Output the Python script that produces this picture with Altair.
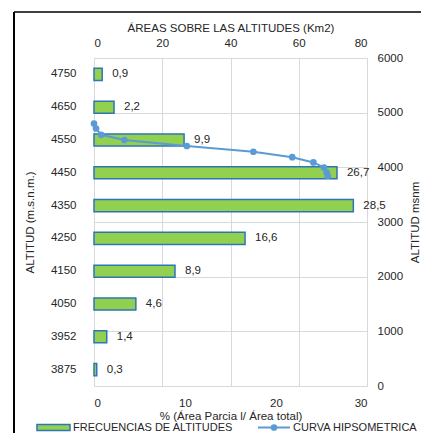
import altair as alt
import pandas as pd

# Bar data (left categorical axis / bottom % axis)
classes = ["4750", "4650", "4550", "4450", "4350", "4250", "4150", "4050", "3952", "3875"]
pct = [0.9, 2.2, 9.9, 26.7, 28.5, 16.6, 8.9, 4.6, 1.4, 0.3]

# Hypsometric curve (top km2 axis / right altitude axis)
area_km2 = [0.0, 0.6, 2.1, 8.9, 27.2, 46.7, 58.1, 64.3, 67.4, 68.2, 68.5]
alt_msnm = [4800, 4710, 4595, 4500, 4390, 4285, 4185, 4090, 3995, 3904, 3846]

FONT = "Liberation Sans"
GRID = "#D9D9D9"
TXT = "#262626"
GREEN = "#92D050"
BORDER = "#2E75B6"
BLUE = "#5B9BD5"

W, H = 273, 328

bars_df = pd.DataFrame({"clase": classes, "pct": pct})
curve_df = pd.DataFrame({"km2": area_km2, "alt": alt_msnm})
one = pd.DataFrame({"a": [0]})

common = dict(labelFont=FONT, titleFont=FONT, labelFontSize=11.5, titleFontSize=11.5,
              labelColor=TXT, titleColor=TXT, titleFontWeight="normal")

xb = alt.X("pct:Q", scale=alt.Scale(domain=[0, 30], nice=False),
           axis=alt.Axis(values=[0, 10, 20, 30], grid=False, domain=False, ticks=False,
                         labelPadding=11, title="% (Área Parcia l/ Área total)", titlePadding=2,
                         **common))
yb = alt.Y("clase:N", sort=classes,
           scale=alt.Scale(paddingInner=0.63, paddingOuter=0.315),
           axis=alt.Axis(grid=False, domain=False, ticks=False, labelPadding=18,
                         title="ALTITUD (m.s.n.m.)", titlePadding=15, **common))

bars = alt.Chart(bars_df).mark_bar(fill=GREEN, stroke=BORDER, strokeWidth=1.5).encode(x=xb, y=yb)
labels = alt.Chart(bars_df).transform_calculate(
    lab="replace(format(datum.pct, '.1f'), '.', ',')"
).mark_text(align="left", dx=10, font=FONT, fontSize=11.5, color=TXT).encode(
    x="pct:Q", y=alt.Y("clase:N", sort=classes), text="lab:N")
bar_layer = alt.layer(bars, labels)

xl = alt.X("km2:Q", scale=alt.Scale(domain=[0, 80], nice=False),
           axis=alt.Axis(orient="top", values=[0, 20, 40, 60, 80], grid=True, gridColor=GRID,
                         domain=False, ticks=False, labelPadding=10,
                         title="ÁREAS SOBRE LAS ALTITUDES (Km2)", titlePadding=4, **common))
yl = alt.Y("alt:Q", scale=alt.Scale(domain=[0, 6000], nice=False),
           axis=alt.Axis(orient="right", values=[0, 1000, 2000, 3000, 4000, 5000, 6000],
                         format="d", grid=True, gridColor=GRID, domain=False, ticks=False,
                         labelPadding=10, title="ALTITUD msnm", titleAngle=270,
                         titlePadding=18, **common))
curve = alt.Chart(curve_df).mark_line(color=BLUE, strokeWidth=2,
                                      point=alt.OverlayMarkDef(color=BLUE, size=45, filled=True, opacity=1)
                                      ).encode(x=xl, y=yl)

# frame lines
frame_v = alt.Chart(one).mark_rule(color="#000000", strokeWidth=2).encode(
    x=alt.value(-80), y=alt.value(-46), y2=alt.value(400))
frame_h = alt.Chart(one).mark_rule(color="#000000", strokeWidth=1.5).encode(
    x=alt.value(-80), x2=alt.value(370), y=alt.value(-46))

# legend
LY = 369.5
leg_rect = alt.Chart(one).mark_rect(fill=GREEN, stroke=BORDER, strokeWidth=1.5).encode(
    x=alt.value(-57), x2=alt.value(-24), y=alt.value(LY - 3), y2=alt.value(LY + 3))
leg_t1 = alt.Chart(one).mark_text(align="left", baseline="middle", font=FONT, fontSize=11,
                                  color=TXT).encode(
    x=alt.value(-21), y=alt.value(LY), text=alt.value("FRECUENCIAS DE ALTITUDES"))
leg_line = alt.Chart(one).mark_rule(color=BLUE, strokeWidth=2).encode(
    x=alt.value(164), x2=alt.value(196), y=alt.value(LY))
leg_pt = alt.Chart(one).mark_point(color=BLUE, filled=True, opacity=1, size=45).encode(
    x=alt.value(180), y=alt.value(LY))
leg_t2 = alt.Chart(one).mark_text(align="left", baseline="middle", font=FONT, fontSize=11,
                                  color=TXT).encode(
    x=alt.value(199), y=alt.value(LY), text=alt.value("CURVA HIPSOMETRICA"))

chart = alt.layer(bar_layer, curve, frame_v, frame_h, leg_rect, leg_t1, leg_line, leg_pt, leg_t2
).resolve_scale(x="independent", y="independent").properties(
    width=W, height=H,
    autosize=alt.AutoSizeParams(type="none"),
    padding={"left": 86, "top": 50, "right": 54, "bottom": 47},
).configure_view(stroke=None).configure(background="white")

chart.save("out.html", embed_options={"renderer": "svg", "actions": False})
